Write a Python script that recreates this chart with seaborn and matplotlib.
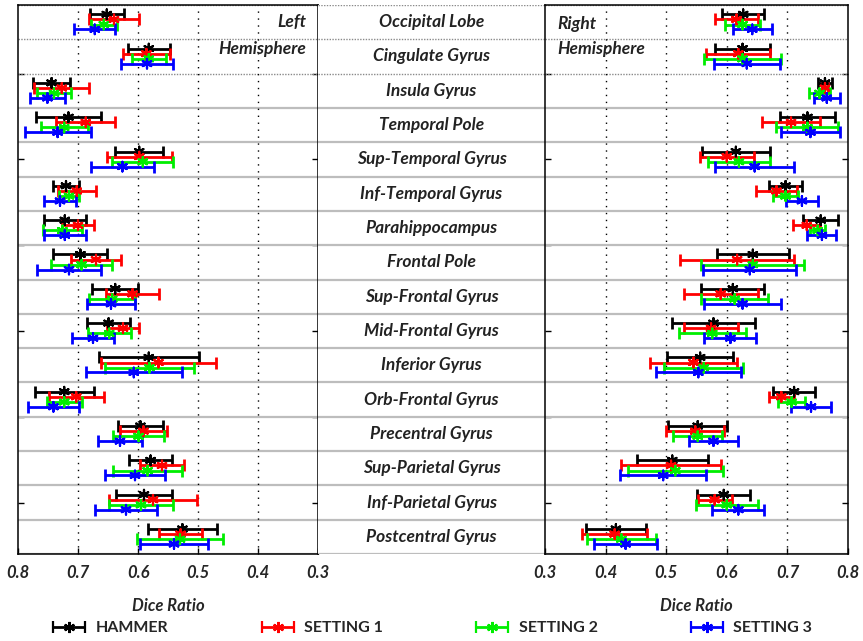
import matplotlib
matplotlib.use('Agg')
import matplotlib.pyplot as plt
from matplotlib.legend_handler import HandlerErrorbar
import numpy as np
import pandas as pd
import seaborn as sns

regions = ['Occipital Lobe', 'Cingulate Gyrus', 'Insula Gyrus', 'Temporal Pole',
           'Sup-Temporal Gyrus', 'Inf-Temporal Gyrus', 'Parahippocampus', 'Frontal Pole',
           'Sup-Frontal Gyrus', 'Mid-Frontal Gyrus', 'Inferior Gyrus', 'Orb-Frontal Gyrus',
           'Precentral Gyrus', 'Sup-Parietal Gyrus', 'Inf-Parietal Gyrus', 'Postcentral Gyrus']
methods = ['HAMMER', 'SETTING 1', 'SETTING 2', 'SETTING 3']
colors = ['#000000', '#ff0000', '#00ee00', '#0000ff']

# left hemisphere: mean dice and half-width of the error bar
left_hammer = [.652, .582, .744, .716, .598, .720, .722, .696, .638, .649, .582, .723, .596, .579, .590, .526]
left_hammer_err = [.028, .035, .031, .054, .040, .022, .035, .045, .038, .036, .083, .049, .037, .036, .047, .057]
left_s1 = [.640, .586, .727, .687, .598, .702, .700, .670, .609, .625, .566, .703, .591, .560, .575, .529]
left_s1_err = [.042, .039, .046, .049, .054, .032, .026, .042, .044, .027, .096, .046, .039, .037, .074, .036]
left_s2 = [.657, .582, .740, .723, .592, .715, .726, .694, .643, .648, .581, .723, .599, .584, .595, .530]
left_s2_err = [.022, .028, .029, .039, .051, .017, .033, .051, .038, .036, .074, .029, .042, .058, .054, .071]
left_s3 = [.672, .585, .751, .734, .626, .730, .722, .715, .645, .675, .607, .741, .630, .605, .620, .540]
left_s3_err = [.034, .044, .029, .055, .053, .027, .035, .053, .040, .035, .080, .042, .036, .050, .052, .057]

# right hemisphere
right_hammer = [.627, .626, .762, .733, .615, .697, .755, .643, .610, .578, .556, .711, .552, .510, .595, .417]
right_hammer_err = [.035, .046, .012, .045, .056, .027, .029, .059, .052, .068, .054, .034, .049, .059, .044, .049]
right_s1 = [.616, .619, .762, .706, .600, .682, .732, .617, .590, .574, .545, .690, .548, .508, .580, .415]
right_s1_err = [.036, .053, .005, .048, .045, .034, .022, .094, .061, .045, .072, .021, .048, .083, .028, .054]
right_s2 = [.626, .626, .753, .733, .620, .697, .750, .643, .613, .576, .562, .707, .552, .515, .600, .426]
right_s2_err = [.029, .063, .017, .051, .051, .020, .012, .085, .055, .055, .065, .022, .040, .078, .051, .057]
right_s3 = [.642, .633, .765, .738, .646, .724, .757, .638, .626, .606, .553, .739, .578, .495, .619, .433]
right_s3_err = [.032, .054, .021, .049, .065, .026, .024, .077, .063, .043, .070, .033, .041, .071, .043, .052]

offsets = [-0.23, -0.08, 0.07, 0.21]

rows = []
for hemi, means, errs in [('Left', [left_hammer, left_s1, left_s2, left_s3],
                           [left_hammer_err, left_s1_err, left_s2_err, left_s3_err]),
                          ('Right', [right_hammer, right_s1, right_s2, right_s3],
                           [right_hammer_err, right_s1_err, right_s2_err, right_s3_err])]:
    for k, m in enumerate(methods):
        for i, r in enumerate(regions):
            rows.append({'hemi': hemi, 'method': m, 'region': r,
                         'mean': means[k][i], 'err': errs[k][i], 'y': i + offsets[k]})
df = pd.DataFrame(rows)

sns.set_style('white')
plt.rcParams['font.family'] = ['Lato', 'DejaVu Sans']
bi = dict(fontweight='bold', fontstyle='italic')

fig = plt.figure(figsize=(8.63, 6.41), dpi=100)
axl = fig.add_axes([18 / 863, 1 - 554 / 641, 300 / 863, 549 / 641])
axc = fig.add_axes([318 / 863, 1 - 554 / 641, 227 / 863, 549 / 641])
axr = fig.add_axes([545 / 863, 1 - 554 / 641, 303 / 863, 549 / 641])

asterisk = (6, 2, 0)
for ax in (axl, axc, axr):
    ax.set_ylim(15.5, -0.5)
    for b in np.arange(-0.5, 16.0, 1.0):
        if b < 2:
            ax.axhline(b, color='#8a8a8a', lw=1, ls=(0, (1, 1)), zorder=1)
        else:
            ax.axhline(b, color='#bdbdbd', lw=1.6, zorder=1)

for ax, hemi in ((axl, 'Left'), (axr, 'Right')):
    d = df[df['hemi'] == hemi]
    for v in [0.4, 0.5, 0.6, 0.7]:
        ax.axvline(v, color='black', lw=1, ls=(0, (1, 4)), zorder=1)
    for m, c in zip(methods, colors):
        s = d[d['method'] == m]
        ax.errorbar(s['mean'], s['y'], xerr=s['err'], fmt='none', ecolor=c,
                    elinewidth=2, capsize=4, capthick=2, zorder=3)
    sns.scatterplot(data=d, x='mean', y='y', hue='method', palette=colors,
                    marker=asterisk, s=48, linewidth=1.6, legend=False, ax=ax, zorder=4)
    ax.set_xticks([0.3, 0.4, 0.5, 0.6, 0.7, 0.8])
    ax.set_xticklabels(['0.3', '0.4', '0.5', '0.6', '0.7', '0.8'], fontsize=12, **bi)
    ax.set_yticks(np.arange(1.5, 15, 2.5))
    ax.set_yticklabels([])
    ax.tick_params(axis='both', direction='in', length=4, width=1, color='black',
                   left=True, right=True, bottom=True, top=False, pad=8)
    ax.set_xlabel('Dice Ratio', fontsize=12, labelpad=12, **bi)
    ax.set_ylabel('')
    for sp in ax.spines.values():
        sp.set_color('black')
        sp.set_linewidth(1.1)
    ax.set_ylim(15.5, -0.5)

axl.set_xlim(0.8, 0.3)
axr.set_xlim(0.3, 0.8)

axl.text(0.96, 0.0, 'Left', ha='right', va='center', fontsize=12.5, color='#222222',
         transform=axl.get_yaxis_transform(), **bi)
axl.text(0.96, 0.78, 'Hemisphere', ha='right', va='center', fontsize=12.5, color='#222222',
         transform=axl.get_yaxis_transform(), **bi)
axr.text(0.04, 0.05, 'Right', ha='left', va='center', fontsize=12.5, color='#222222',
         transform=axr.get_yaxis_transform(), **bi)
axr.text(0.04, 0.78, 'Hemisphere', ha='left', va='center', fontsize=12.5, color='#222222',
         transform=axr.get_yaxis_transform(), **bi)

axc.set_xlim(0, 1)
for i, r in enumerate(regions):
    axc.text(0.5, i, r, ha='center', va='center', fontsize=12.5, color='#222222', **bi)
axc.set_xticks([])
axc.set_yticks([])
for sp in axc.spines.values():
    sp.set_visible(False)

handles = []
for c in colors:
    h = axc.errorbar([np.nan], [np.nan], xerr=[np.nan], color=c, marker=asterisk,
                     markersize=8, mew=1.6, elinewidth=2, capsize=4, capthick=2, ls='none')
    handles.append(h)
fig.legend(handles, methods, loc='center', bbox_to_anchor=(0.5, 1 - 628 / 641),
           ncol=4, frameon=False, handlelength=2.3, columnspacing=5.7,
           handletextpad=0.5, prop={'weight': 'bold', 'size': 11.5},
           handler_map={type(handles[0]): HandlerErrorbar(xerr_size=1.0)})

fig.savefig('out.png', dpi=100)
